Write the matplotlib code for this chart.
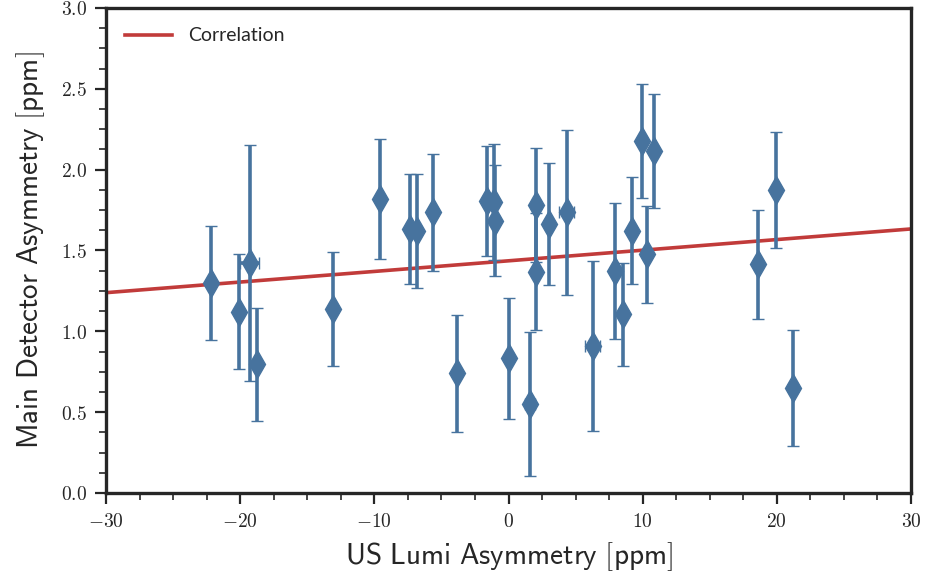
import matplotlib
matplotlib.use("Agg")
import matplotlib.pyplot as plt
import numpy as np
from matplotlib.ticker import AutoMinorLocator, MultipleLocator

plt.rcParams['mathtext.fontset'] = 'cm'

# Data
us_lumi = [-22.2, -20.1, -19.3, -18.75, -13.1, -9.55, -7.34, -6.84, -5.65, -3.86,
           -1.6, -1.08, -1.0, 0.0, 1.6, 2.05, 2.05, 3.0, 4.34, 6.27,
           7.96, 8.56, 9.23, 9.97, 10.35, 10.84, 18.57, 19.96, 21.18]
us_lumi_err = [0.0, 0.0, 0.7, 0.0, 0.0, 0.0, 0.0, 0.0, 0.0, 0.0,
               0.0, 0.0, 0.0, 0.0, 0.35, 0.0, 0.0, 0.0, 0.55, 0.55,
               0.0, 0.0, 0.0, 0.0, 0.0, 0.0, 0.0, 0.0, 0.0]
main_det = [1.297, 1.121, 1.42, 0.796, 1.138, 1.817, 1.633, 1.62, 1.736, 0.74,
            1.806, 1.80, 1.684, 0.833, 0.55, 1.781, 1.369, 1.664, 1.736, 0.909,
            1.375, 1.105, 1.623, 2.177, 1.478, 2.115, 1.414, 1.872, 0.647]
main_det_err = [0.353, 0.356, 0.73, 0.35, 0.35, 0.37, 0.34, 0.35, 0.36, 0.36,
                0.34, 0.36, 0.345, 0.375, 0.445, 0.35, 0.36, 0.378, 0.51, 0.525,
                0.42, 0.32, 0.333, 0.35, 0.30, 0.35, 0.338, 0.358, 0.358]
fit_slope = 0.00657
fit_intercept = 1.436

blue = '#47739e'
red = '#c13b3a'
dark = '#262626'

fig = plt.figure(figsize=(9.26, 5.82), dpi=100)
ax = fig.add_axes([0.1145, 0.153, 0.8693, 0.8333])

xl = np.linspace(-30, 30, 2)
ax.plot(xl, fit_intercept + fit_slope * xl, color=red, lw=2.6, label='Correlation', zorder=1)

ax.errorbar(us_lumi, main_det, yerr=main_det_err, xerr=us_lumi_err, fmt='d',
            color=blue, ecolor=blue, markersize=14, elinewidth=2.6,
            capsize=4.0, capthick=2.2, markeredgewidth=1.0, zorder=2)

ax.set_xlim(-30, 30)
ax.set_ylim(0, 3.0)
ax.xaxis.set_major_locator(MultipleLocator(10))
ax.yaxis.set_major_locator(MultipleLocator(0.5))
ax.xaxis.set_minor_locator(AutoMinorLocator(4))
ax.yaxis.set_minor_locator(AutoMinorLocator(4))

xt = np.arange(-30, 31, 10)
ax.set_xticks(xt)
ax.set_xticklabels([r'$%d$' % v if v >= 0 else r'$-%d$' % abs(v) for v in xt])
yt = np.arange(0, 3.01, 0.5)
ax.set_yticks(yt)
ax.set_yticklabels([r'$%.1f$' % v for v in yt])

for s in ax.spines.values():
    s.set_linewidth(2.4)
    s.set_color(dark)
ax.tick_params(which='major', direction='out', length=8, width=1.6, color=dark,
               labelsize=14, labelcolor=dark, pad=6)
ax.tick_params(which='minor', direction='out', length=5, width=1.2, color=dark)

ax.set_xlabel(r'$\mathsf{US\ Lumi\ Asymmetry\ [ppm]}$', fontsize=21, color=dark, labelpad=6)
ax.set_ylabel(r'$\mathsf{Main\ Detector\ Asymmetry\ [ppm]}$', fontsize=21, color=dark, labelpad=10)

leg = ax.legend(loc='upper left', frameon=False, prop={'family': 'Lato', 'size': 14},
                handlelength=2.4, borderaxespad=0.6)
for t in leg.get_texts():
    t.set_color(dark)

fig.savefig('out.png', dpi=100)
